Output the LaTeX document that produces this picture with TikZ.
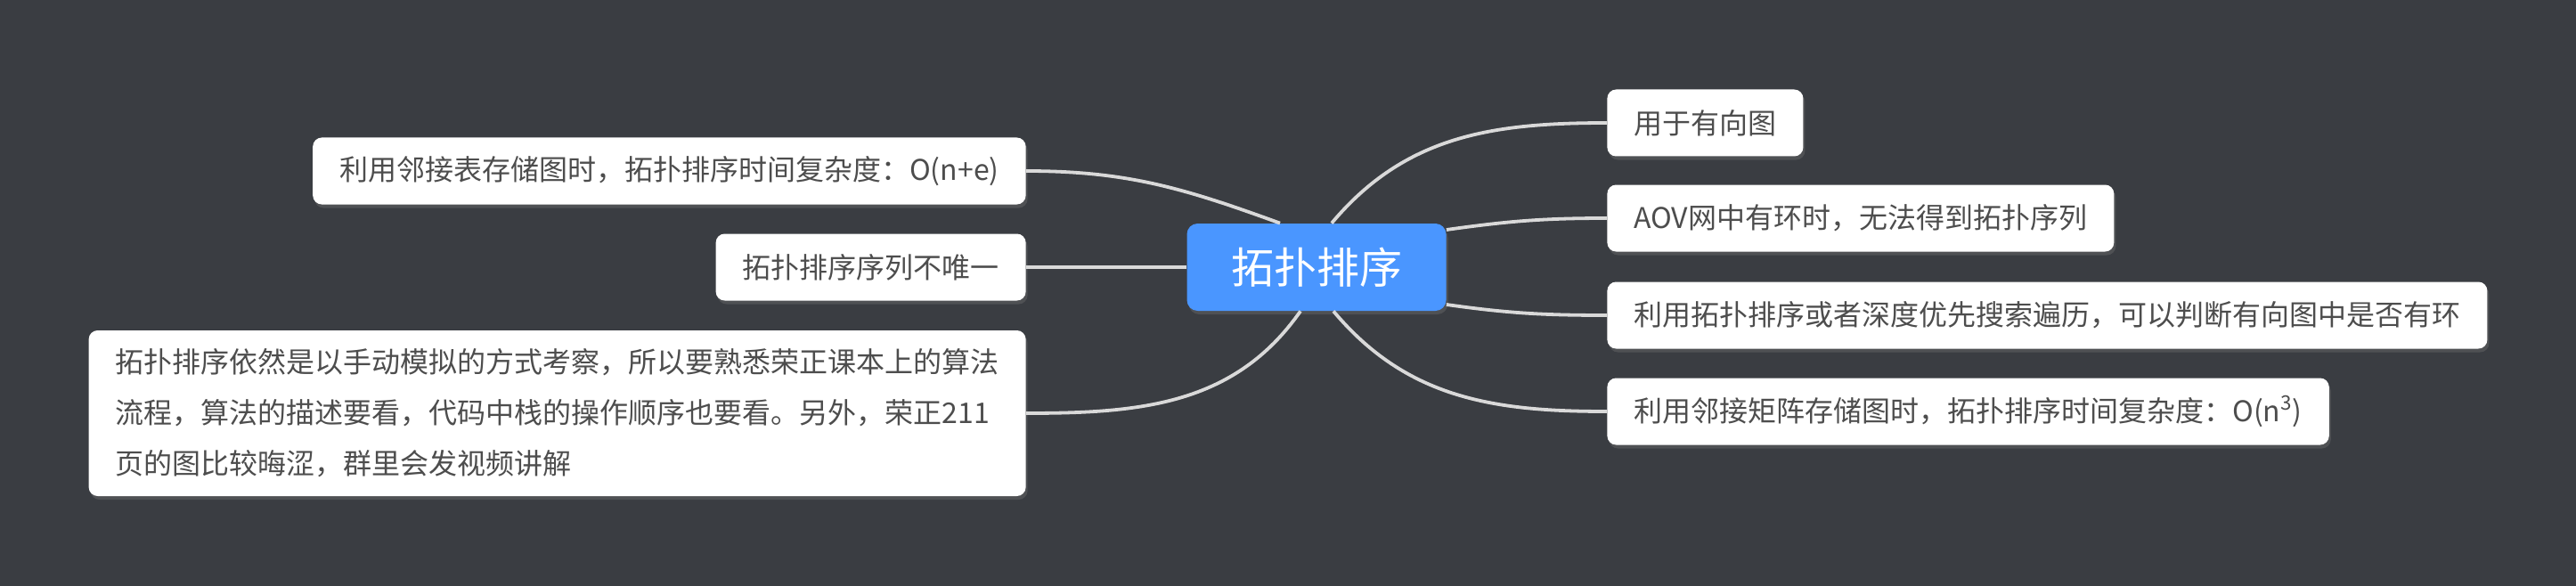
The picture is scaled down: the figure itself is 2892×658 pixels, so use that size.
\documentclass[tikz,border=0pt]{standalone}
\usepackage{fontspec}
\setmainfont{Noto Sans CJK SC}
\usepackage{xcolor}
\usetikzlibrary{positioning,calc,shadows}
\definecolor{bgdark}{HTML}{3A3D42}
\definecolor{rootblue}{HTML}{4A96FF}
\definecolor{leaftext}{HTML}{4D4D4D}
\definecolor{linkgray}{HTML}{D9D9D9}

\begin{document}
\begin{tikzpicture}[x=0.5pt, y=0.5pt,
  root/.style={fill=rootblue, text=white, rounded corners=6pt, minimum width=145.5pt, minimum height=49pt, inner sep=0pt,
    font=\fontsize{24pt}{28pt}\selectfont, drop shadow={shadow xshift=1pt, shadow yshift=-2pt, opacity=0.3}},
  leaf/.style={fill=white, text=leaftext, rounded corners=5pt, inner xsep=15pt, inner ysep=0pt, minimum height=37.5pt, align=left,
    font=\fontsize{16pt}{28.5pt}\selectfont, drop shadow={shadow xshift=1pt, shadow yshift=-2pt, opacity=0.3}},
  link/.style={draw=linkgray, line width=1.9pt}]
\fill[bgdark] (0,0) rectangle (2892,-658);
\node[root] (topo) at (1478,-300) {拓扑排序};
\node[leaf, anchor=east] (adjlist) at (1152,-192) {利用邻接表存储图时，拓扑排序时间复杂度：O(n+e)};
\node[leaf, anchor=east] (unique) at (1152,-300) {拓扑排序序列不唯一};
\node[leaf, anchor=east, minimum height=93pt] (exam) at (1152,-464) {拓扑排序依然是以手动模拟的方式考察，所以要熟悉荣正课本上的算法\\流程，算法的描述要看，代码中栈的操作顺序也要看。另外，荣正211\\页的图比较晦涩，群里会发视频讲解};
\node[leaf, anchor=west] (digraph) at (1804,-138) {用于有向图};
\node[leaf, anchor=west] (cycle) at (1804,-245) {AOV网中有环时，无法得到拓扑序列};
\node[leaf, anchor=west] (judge) at (1804,-354) {利用拓扑排序或者深度优先搜索遍历，可以判断有向图中是否有环};
\node[leaf, anchor=west] (adjmat) at (1804,-462) {利用邻接矩阵存储图时，拓扑排序时间复杂度：O(n\textsuperscript{3})};
\draw[link] ($(topo.north)+(-41,0)$) to[out=160, in=0] (adjlist.east);
\draw[link] (topo.west) -- (unique.east);
\draw[link] ($(topo.south)+(-18,0)$) to[out=235, in=0] (exam.east);
\draw[link] ($(topo.north)+(17,0)$) to[out=50, in=180] (digraph.west);
\draw[link] ($(topo.east)+(0,42)$) to[out=8, in=180] (cycle.west);
\draw[link] ($(topo.east)+(0,-42)$) to[out=-8, in=180] (judge.west);
\draw[link] ($(topo.south)+(19,0)$) to[out=-50, in=180] (adjmat.west);
\end{tikzpicture}
\end{document}
